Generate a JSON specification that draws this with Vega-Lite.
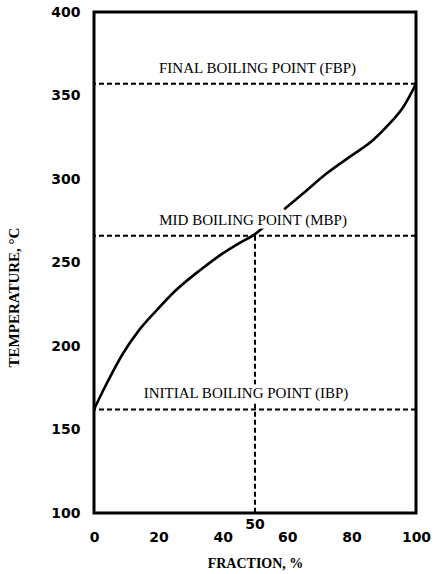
{
  "$schema": "https://vega.github.io/schema/vega-lite/v6.json",
  "autosize": {"type": "none"},
  "padding": {"left": 94, "top": 12, "right": 20, "bottom": 61},
  "width": 322,
  "height": 501,
  "background": "white",
  "config": {
    "view": {"stroke": "black", "strokeWidth": 3},
    "axis": {"grid": false, "domain": false, "ticks": false, "labelColor": "black", "titleColor": "black"}
  },
  "datasets": {
    "curve": [
      {"f": 0, "t": 162}, {"f": 2.5, "t": 172}, {"f": 5, "t": 181.5}, {"f": 9, "t": 195.5},
      {"f": 14, "t": 209.5}, {"f": 19.5, "t": 221.5}, {"f": 25.5, "t": 233.5}, {"f": 33, "t": 245.5},
      {"f": 40, "t": 255.5}, {"f": 45, "t": 261.5}, {"f": 50, "t": 267}, {"f": 55, "t": 275},
      {"f": 58.8, "t": 281.4}, {"f": 65, "t": 291.4}, {"f": 72.3, "t": 303.4}, {"f": 79.5, "t": 313.4},
      {"f": 86.7, "t": 323.4}, {"f": 91.9, "t": 333.4}, {"f": 96.1, "t": 343.3}, {"f": 100, "t": 357}
    ],
    "levels": [
      {"key": "FBP", "t": 357, "lx": 50.8, "label": "FINAL BOILING POINT (FBP)"},
      {"key": "MBP", "t": 266, "lx": 49.4, "label": "MID BOILING POINT (MBP)"},
      {"key": "IBP", "t": 162, "lx": 47.2, "label": "INITIAL BOILING POINT (IBP)"}
    ],
    "mid": [{"f": 50, "t": 266, "t0": 100}]
  },
  "layer": [
    {
      "data": {"name": "levels"},
      "mark": {"type": "rule", "color": "black", "strokeWidth": 2, "strokeDash": [5, 3]},
      "encoding": {"y": {"field": "t", "type": "quantitative"}}
    },
    {
      "data": {"name": "mid"},
      "mark": {"type": "rule", "color": "black", "strokeWidth": 2, "strokeDash": [5, 3]},
      "encoding": {
        "x": {"field": "f", "type": "quantitative"},
        "y": {"field": "t", "type": "quantitative"},
        "y2": {"field": "t0"}
      }
    },
    {
      "data": {"name": "curve"},
      "mark": {"type": "line", "color": "black", "strokeWidth": 2.6, "interpolate": "monotone"},
      "encoding": {
        "x": {
          "field": "f", "type": "quantitative",
          "scale": {"domain": [0, 100], "nice": false, "zero": false},
          "axis": {
            "values": [0, 20, 40, 60, 80, 100],
            "title": "FRACTION, %",
            "labelFont": "DejaVu Sans", "labelFontWeight": "bold", "labelFontSize": 14,
            "labelPadding": 17, "labelFlush": false,
            "titleFont": "Liberation Serif", "titleFontWeight": "bold", "titleFontSize": 14,
            "titlePadding": 12
          }
        },
        "y": {
          "field": "t", "type": "quantitative",
          "scale": {"domain": [100, 400], "nice": false, "zero": false},
          "axis": {
            "values": [100, 150, 200, 250, 300, 350, 400],
            "title": "TEMPERATURE, °C",
            "labelFont": "DejaVu Sans", "labelFontWeight": "bold", "labelFontSize": 14,
            "labelPadding": 14, "labelFlush": false,
            "titleFont": "Liberation Serif", "titleFontWeight": "bold", "titleFontSize": 15,
            "titleX": -73, "titleY": 285
          }
        }
      }
    },
    {
      "data": {"name": "levels"},
      "mark": {"type": "text", "font": "Liberation Serif", "fontSize": 15, "color": "white", "stroke": "white", "strokeWidth": 7, "baseline": "middle", "align": "center", "dy": -16},
      "encoding": {
        "x": {"field": "lx", "type": "quantitative"},
        "y": {"field": "t", "type": "quantitative"},
        "text": {"field": "label"}
      }
    },
    {
      "data": {"name": "levels"},
      "mark": {"type": "text", "font": "Liberation Serif", "fontSize": 15, "color": "black", "baseline": "middle", "align": "center", "dy": -16},
      "encoding": {
        "x": {"field": "lx", "type": "quantitative"},
        "y": {"field": "t", "type": "quantitative"},
        "text": {"field": "label"}
      }
    },
    {
      "data": {"name": "mid"},
      "mark": {"type": "text", "font": "DejaVu Sans", "fontSize": 14, "fontWeight": "bold", "color": "black", "baseline": "middle", "align": "center", "dy": 12},
      "encoding": {
        "x": {"field": "f", "type": "quantitative"},
        "y": {"field": "t0", "type": "quantitative"},
        "text": {"field": "f", "type": "quantitative"}
      }
    }
  ]
}
